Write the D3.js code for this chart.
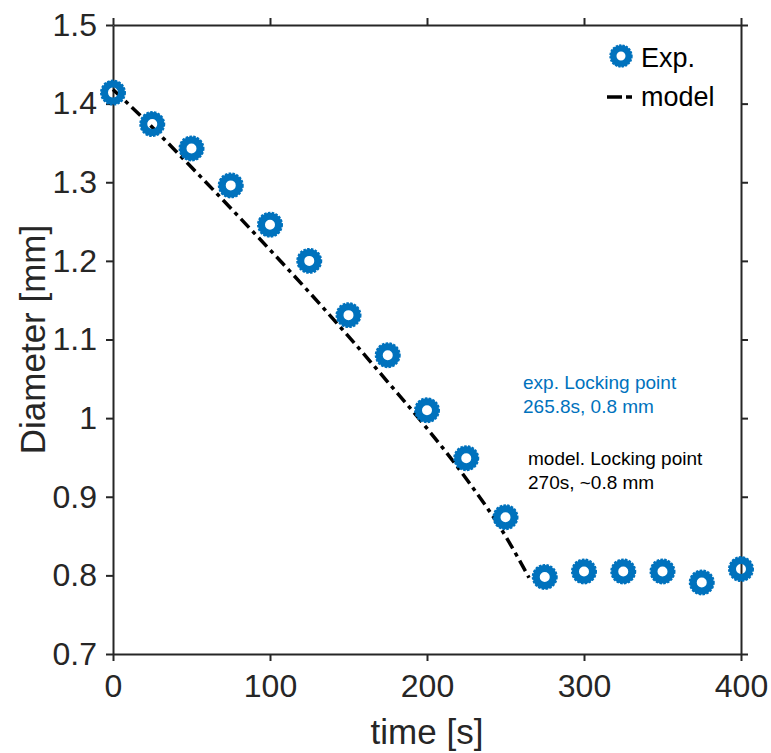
<!DOCTYPE html>
<html>
<head>
<meta charset="utf-8">
<script src="https://cdn.jsdelivr.net/npm/d3@7"></script>
<style>
  html, body { margin: 0; padding: 0; background: #fff; }
  svg text { font-family: "Liberation Sans", Arial, Helvetica, sans-serif; }
</style>
</head>
<body>
<svg id="chart" width="771" height="753"></svg>
<script>
// Measured droplet diameter over time
const expTime = [0, 25, 50, 75, 100, 125, 150, 175, 200, 225, 250, 275, 300, 325, 350, 375, 400];
const expDiameter = [1.414, 1.374, 1.343, 1.296, 1.246, 1.200, 1.131, 1.080, 1.010, 0.949, 0.874, 0.798, 0.805, 0.805, 0.805, 0.791, 0.808];

// Model prediction up to the locking point
const modelTime = [0, 25, 50, 75, 100, 125, 150, 175, 200, 225, 250, 265];
const modelDiameter = [1.418, 1.370, 1.319, 1.267, 1.214, 1.160, 1.104, 1.046, 0.987, 0.923, 0.850, 0.797];

const xTicks = [0, 100, 200, 300, 400];
const yTicks = [0.7, 0.8, 0.9, 1.0, 1.1, 1.2, 1.3, 1.4, 1.5];

const expLabel = ["exp. Locking point", "265.8s, 0.8 mm"];
const modelLabel = ["model. Locking point", "270s, ~0.8 mm"];
const legendLabels = ["Exp.", "model"];

const blue = "#0072BD";
const axisColor = "#262626";

const svg = d3.select("#chart");
const plot = { left: 113, right: 741, top: 25, bottom: 654 };

const x = d3.scaleLinear().domain([0, 400]).range([plot.left, plot.right]);
const y = d3.scaleLinear().domain([0.7, 1.5]).range([plot.bottom, plot.top]);

const fmtY = d => d3.format("~g")(d);

// Axes on all four sides, ticks pointing outwards
function styleAxis(g) {
  g.selectAll("path.domain").attr("stroke", axisColor).attr("stroke-width", 2);
  g.selectAll(".tick line").attr("stroke", axisColor).attr("stroke-width", 2);
  g.selectAll(".tick text").attr("fill", axisColor).attr("font-size", 32);
}

svg.append("g")
  .attr("transform", `translate(0,${plot.bottom})`)
  .call(d3.axisBottom(x).tickValues(xTicks).tickSize(7).tickSizeOuter(0).tickPadding(13))
  .call(styleAxis);

svg.append("g")
  .attr("transform", `translate(0,${plot.top})`)
  .call(d3.axisTop(x).tickValues(xTicks).tickSize(7).tickSizeOuter(0).tickFormat(""))
  .call(styleAxis);

svg.append("g")
  .attr("transform", `translate(${plot.left},0)`)
  .call(d3.axisLeft(y).tickValues(yTicks).tickFormat(fmtY).tickSize(7).tickSizeOuter(0).tickPadding(9))
  .call(styleAxis);

svg.append("g")
  .attr("transform", `translate(${plot.right},0)`)
  .call(d3.axisRight(y).tickValues(yTicks).tickSize(7).tickSizeOuter(0).tickFormat(""))
  .call(styleAxis);

// Axis titles
svg.append("text")
  .attr("x", (plot.left + plot.right) / 2)
  .attr("y", 744)
  .attr("text-anchor", "middle")
  .attr("font-size", 35)
  .attr("fill", axisColor)
  .text("time [s]");

svg.append("text")
  .attr("transform", `translate(45,${(plot.top + plot.bottom) / 2}) rotate(-90)`)
  .attr("text-anchor", "middle")
  .attr("font-size", 35)
  .attr("fill", axisColor)
  .text("Diameter [mm]");

// Model curve (dash-dot)
const modelData = modelTime.map((t, i) => [t, modelDiameter[i]]);
const line = d3.line().x(d => x(d[0])).y(d => y(d[1])).curve(d3.curveMonotoneX);

svg.append("path")
  .datum(modelData)
  .attr("d", line)
  .attr("fill", "none")
  .attr("stroke", "#000")
  .attr("stroke-width", 3.5)
  .attr("stroke-dasharray", "12,5,4,5");

// Toothed ring marker
function drawMarker(g, cx, cy, s) {
  g.append("circle")
    .attr("cx", cx).attr("cy", cy).attr("r", 8.5 * s)
    .attr("fill", "none").attr("stroke", blue).attr("stroke-width", 7 * s);
  g.append("circle")
    .attr("cx", cx).attr("cy", cy).attr("r", 11.5 * s)
    .attr("fill", "none").attr("stroke", blue).attr("stroke-width", 3 * s)
    .attr("stroke-dasharray", `${2.4 * s},${1.3 * s}`);
}

const markers = svg.append("g");
expTime.forEach((t, i) => drawMarker(markers, x(t), y(expDiameter[i]), 1));

// Legend
const legend = svg.append("g");
drawMarker(legend, 621, 56, 0.9);
legend.append("text")
  .attr("x", 641).attr("y", 67)
  .attr("font-size", 27).attr("fill", "#000")
  .text(legendLabels[0]);
legend.append("line")
  .attr("x1", 607).attr("x2", 636).attr("y1", 97).attr("y2", 97)
  .attr("stroke", "#000").attr("stroke-width", 3.5)
  .attr("stroke-dasharray", "15,4,6,4");
legend.append("text")
  .attr("x", 641).attr("y", 106)
  .attr("font-size", 27).attr("fill", "#000")
  .text(legendLabels[1]);

// Locking point annotations
function annotate(lines, x0, y0, color) {
  const t = svg.append("text")
    .attr("x", x0).attr("y", y0)
    .attr("font-size", 19).attr("fill", color);
  lines.forEach((s, i) => {
    t.append("tspan").attr("x", x0).attr("dy", i === 0 ? 0 : 23.5).text(s);
  });
}
annotate(expLabel, 523, 389, blue);
annotate(modelLabel, 528, 465, "#000");
</script>
</body>
</html>
